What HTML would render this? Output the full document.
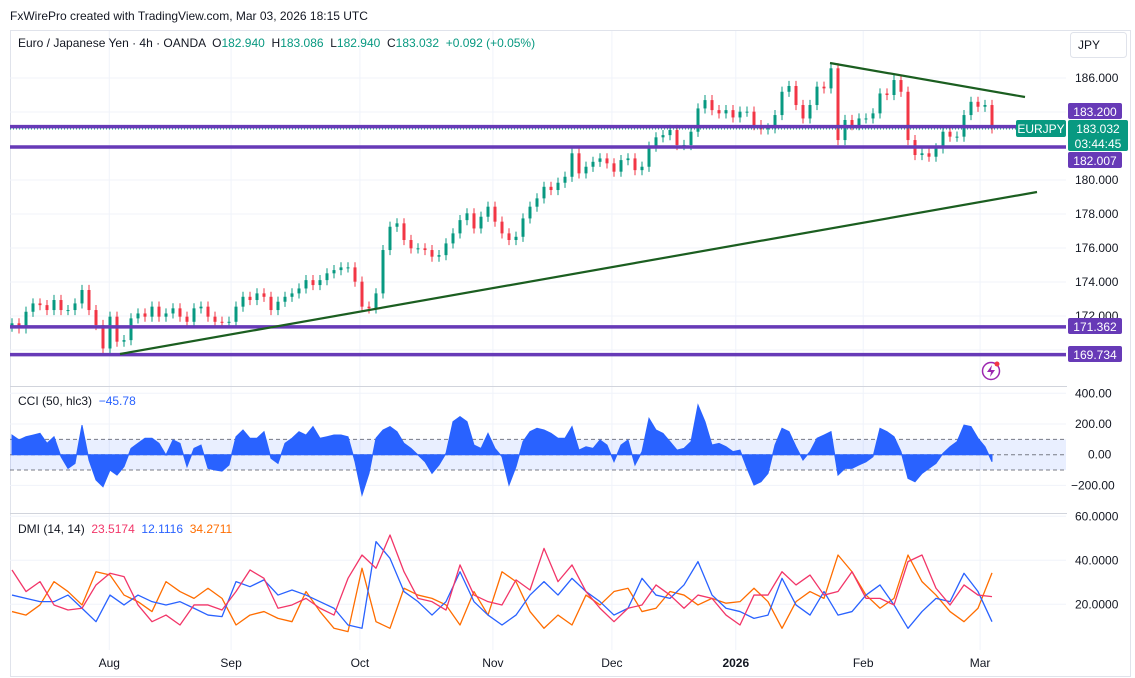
<!DOCTYPE html>
<html><head><meta charset="utf-8">
<style>
body{margin:0;background:#fff;width:1135px;height:678px;overflow:hidden;font-family:"Liberation Sans",sans-serif;}
svg{position:absolute;left:0;top:0}
text{font-family:"Liberation Sans",sans-serif;white-space:pre}
</style></head>
<body>
<svg id="chart" width="1135" height="678" xmlns="http://www.w3.org/2000/svg">
<text x="10" y="20" font-size="12" fill="#131722">FxWirePro created with TradingView.com, Mar 03, 2026 18:15 UTC</text>
<rect x="10.5" y="30.5" width="1120" height="646" fill="none" stroke="#e0e3eb"/>
<g id="grid"></g>
<line x1="10" y1="386.5" x2="1130" y2="386.5" stroke="#d1d4dc"/>
<line x1="10" y1="513.5" x2="1130" y2="513.5" stroke="#d1d4dc"/>
<g id="cci-bg"></g>
<g id="candles"></g>
<g id="levels"></g>
<line x1="120" y1="354" x2="1037" y2="192" stroke="#1b5e20" stroke-width="2.2"/>
<line x1="830" y1="63" x2="1025" y2="97" stroke="#1b5e20" stroke-width="2.2"/>
<g id="cci"></g>
<g id="dmi"></g>
<g id="axes"></g>
<text x="18" y="47" font-size="12" fill="#131722">Euro / Japanese Yen · 4h · OANDA  O<tspan fill="#089981">182.940</tspan>  H<tspan fill="#089981">183.086</tspan>  L<tspan fill="#089981">182.940</tspan>  C<tspan fill="#089981">183.032  +0.092 (+0.05%)</tspan></text>
<rect x="1070.5" y="32.5" width="56" height="25" rx="3" fill="#fff" stroke="#e0e3eb"/>
<text x="1078" y="49" font-size="12" fill="#131722">JPY</text>
<text x="18" y="405" font-size="12" fill="#131722">CCI (50, hlc3)  <tspan fill="#2962ff">−45.78</tspan></text>
<text x="18" y="533" font-size="12" fill="#131722">DMI (14, 14)  <tspan fill="#f23669">23.5174</tspan>  <tspan fill="#2962ff">12.1116</tspan>  <tspan fill="#ff6d00">34.2711</tspan></text>
<g><circle cx="991" cy="371" r="8.5" fill="none" stroke="#9c27b0" stroke-width="1.5"/><path d="M992 365 L987 372 L991 372 L990 377 L995 370 L991 370 Z" fill="#9c27b0"/><circle cx="997" cy="364" r="2.5" fill="#f23645"/></g>
</svg>
<script>
const closes=[171.57,171.27,172.25,172.74,172.64,172.35,172.94,172.35,172.35,172.74,173.53,172.35,171.47,170.09,171.96,170.49,170.58,171.86,172.15,171.96,172.55,171.96,172.15,172.45,171.96,171.66,172.45,172.55,171.96,171.66,171.60,171.66,172.55,173.13,172.94,173.33,173.13,172.35,172.84,173.13,173.33,173.62,174.11,173.82,174.11,174.51,174.70,174.86,174.86,174.02,172.55,172.45,173.33,175.88,177.25,177.45,176.47,175.98,175.98,175.88,175.49,175.58,176.27,176.86,177.64,178.04,177.15,177.84,178.43,177.55,176.86,176.47,176.66,177.74,178.43,178.92,179.60,179.41,179.84,
180.19,181.57,180.39,180.78,181.07,181.27,180.98,180.49,181.17,181.27,180.58,180.78,181.96,182.51,182.64,182.94,182.06,182.06,182.84,184.21,184.70,184.11,183.92,184.11,183.68,184.02,184.02,183.23,182.98,183.04,183.82,185.19,185.53,184.41,183.62,184.41,185.49,185.39,186.57,182.35,183.53,183.23,183.62,183.62,183.92,185.09,185.00,185.88,185.19,182.35,181.47,181.57,181.37,181.86,182.84,182.55,182.55,183.82,184.60,184.31,184.41,183.032];
const cciValues=[128,96,117,128,139,74,117,-13,-89,-57,193,-35,-165,-209,-100,-133,-78,41,74,107,107,74,-2,96,74,-78,41,63,-89,-100,-107,-67,117,161,107,107,150,-24,-57,74,107,150,128,183,107,117,128,128,117,-46,-263,-122,107,161,183,150,74,41,-2,-46,-122,-67,9,215,248,215,63,41,139,41,-13,-198,-78,85,150,172,161,139,107,
107,183,30,52,41,96,63,-46,63,96,-67,20,237,161,139,85,30,41,85,324,215,63,74,52,20,30,-89,-198,-176,-122,63,172,150,52,-35,20,107,128,150,-133,-89,-89,-67,-46,-13,172,150,117,20,-154,-176,-122,-89,-57,9,52,85,193,183,107,52,-46];
const plusDI=[35.6,25.8,30.3,19.7,17.4,18.2,28.8,34.1,32.6,19.7,12.1,15.1,10.6,19.7,19.7,17.4,25.8,35.6,31.8,18.2,19.7,22.7,18.2,15.1,31.8,42.4,36.4,51.5,34.8,22.7,21.2,17.4,37.9,24.2,21.2,19.7,31.1,26.5,45.4,30.3,37.9,25.8,18.2,12.1,18.2,19.7,28.8,24.2,18.2,24.2,22.7,15.1,10.6,24.2,24.2,34.8,28.8,33.3,24.2,25.8,34.8,22.7,22.7,19.7,39.4,42.4,27.3,19.7,28.8,24.2,23.5];
const minusDI=[24.2,22.7,21.2,21.2,24.2,18.2,12.1,24.2,19.7,24.2,21.2,19.7,21.2,18.2,15.1,14.4,30.3,28.0,31.1,24.2,26.5,24.2,21.2,18.2,10.6,9.1,48.5,40.9,25.8,21.2,15.1,21.2,34.8,21.2,15.1,10.6,15.1,24.2,30.3,24.2,31.8,25.8,21.2,15.1,18.2,31.8,24.2,22.7,28.8,39.4,24.2,18.2,16.7,13.6,15.1,31.8,19.7,15.1,25.8,15.1,16.7,24.2,28.8,19.7,9.1,16.7,22.7,21.2,34.1,25.8,12.1];
const adx=[16.7,15.1,19.7,30.3,25.8,19.7,34.8,33.3,24.2,21.2,16.7,30.3,25.8,22.7,27.3,22.7,10.6,15.1,16.7,13.6,12.1,25.8,16.7,9.1,7.6,36.4,12.1,9.1,27.3,24.2,22.7,19.7,10.6,25.8,15.1,34.8,30.3,16.7,9.1,15.1,10.6,24.2,19.7,25.8,27.3,16.7,18.2,25.8,24.2,19.7,22.7,20.5,21.2,27.3,21.2,9.1,21.2,25.8,22.7,42.4,34.8,24.2,18.2,22.7,42.4,30.3,24.2,16.7,12.1,18.2,34.3];
const priceTicks=[186,180,178,176,174,172];
const cciTicks=[400,200,0,-200];
const dmiTicks=[60,40,20];
const months=["Aug","Sep","Oct","Nov","Dec","2026","Feb","Mar"];
const monthPos=[13.9,31.3,49.7,68.7,85.7,103.4,121.6,138.3];
const levels=[183.14,181.94,171.36,169.73];
const levelLabels=["183.200","182.007","171.362","169.734"];

const NS="http://www.w3.org/2000/svg";
function mk(tag,attrs,parent){const e=document.createElementNS(NS,tag);for(const k in attrs)e.setAttribute(k,attrs[k]);parent.appendChild(e);return e;}
const xBar=(i,n)=>12+i*(980/(n-1));
const xMonth=m=>12+m*7;
const yP=p=>78+(186-p)*17;
const yC=v=>454.7-v*0.1535;
const yD=v=>648.3-v*2.2;
const g=id=>document.getElementById(id);

const grid=g('grid');
monthPos.forEach((m,k)=>{const l=mk('line',{x1:xMonth(m),y1:31,x2:xMonth(m),y2:650,stroke:'#f0f3fa'},grid);

});
[186,184,182,180,178,176,174,172,170].forEach(p=>{const l=mk('line',{x1:10,y1:yP(p),x2:1066,y2:yP(p),stroke:'#f0f3fa'},grid);

});
[400,200,-200].forEach(v=>{const l=mk('line',{x1:10,y1:yC(v),x2:1066,y2:yC(v),stroke:'#f0f3fa'},grid);

});
[60,40,20].forEach(v=>{const l=mk('line',{x1:10,y1:yD(v),x2:1066,y2:yD(v),stroke:'#f0f3fa'},grid);

});

const bg=g('cci-bg');
const band=mk('rect',{x:10,y:yC(100),width:1056,height:yC(-100)-yC(100),fill:'#2962ff','fill-opacity':0.1},bg);


[100,0,-100].forEach(v=>{const l=mk('line',{x1:10,y1:yC(v),x2:1066,y2:yC(v),stroke:'#787b86','stroke-dasharray':'4,3'},bg);

});

const cg=g('candles');
closes.forEach((c,i)=>{
  const o=i>0?closes[i-1]:c-0.2;const up=c>=o;const col=up?'#089981':'#f23645';
  const x=xBar(i,closes.length);const hi=Math.max(o,c)+0.3,lo=Math.min(o,c)-0.3;
  const w=mk('line',{x1:x,y1:yP(hi),x2:x,y2:yP(lo),stroke:col,'stroke-width':1},cg);
  
  
  const b=mk('rect',{x:x-1.5,y:yP(Math.max(o,c)),width:3,height:Math.max(1,Math.abs(yP(o)-yP(c))),fill:col},cg);
  
  
});

const lg=g('levels');
levels.forEach((p,k)=>{const l=mk('line',{x1:10,y1:yP(p),x2:1066,y2:yP(p),stroke:'#673ab7','stroke-width':3.5},lg);

});
const last=closes[closes.length-1];
const pl=mk('line',{x1:10,y1:yP(last)+0.5,x2:1066,y2:yP(last)+0.5,stroke:'#089981','stroke-dasharray':'1,2'},lg);



const cc=g('cci');const n=cciValues.length;let d='M'+xBar(0,n)+' '+yC(0);
cciValues.forEach((v,i)=>{d+=' L'+xBar(i,n)+' '+yC(v);});
d+=' L'+xBar(n-1,n)+' '+yC(0)+' Z';
const ca=mk('path',{d:d,fill:'#2962ff',stroke:'#2962ff','stroke-width':1},cc);



const dg=g('dmi');
[[adx,'#ff6d00','adx-line'],[minusDI,'#2962ff','minus-di-line'],[plusDI,'#f23669','plus-di-line']].forEach(([arr,col,nm])=>{
  const pts=arr.map((v,i)=>xBar(i,arr.length)+','+yD(v)).join(' ');
  const pl=mk('polyline',{points:pts,fill:'none',stroke:col,'stroke-width':1.3,'stroke-linejoin':'round'},dg);
  
  
});

const ax=g('axes');
mk('rect',{x:1067,y:58,width:63,height:590,fill:'#fff'},ax);
function txt(x,y,s,attrs,name){const t=mk('text',Object.assign({x:x,y:y,'font-size':12,fill:'#131722'},attrs||{}),ax);t.textContent=s;

return t;}
priceTicks.forEach(p=>txt(1075,yP(p)+4,p.toFixed(3),{},'price-tick'));
cciTicks.forEach(v=>txt(v<0?1071:(v===0?1088:1075),yC(v)+4,(v<0?'−'+(-v).toFixed(2):v.toFixed(2)),{},'cci-tick'));
dmiTicks.forEach(v=>txt(1075,yD(v)+4,v.toFixed(4),{},'dmi-tick'));
months.forEach((m,k)=>txt(xMonth(monthPos[k]),667,m,{'text-anchor':'middle','font-weight':m==='2026'?'bold':'normal'},'time-tick-'+m));
function box(x,y,w,h,fill,name,lines){const r=mk('rect',{x:x,y:y,width:w,height:h,rx:2,fill:fill},ax);


lines.forEach((s,k)=>txt(x+w/2,y+13+k*15,s,{'text-anchor':'middle',fill:'#fff'},name+'-text'));}
box(1068,103,54,16,'#673ab7','level-label-183200',[levelLabels[0]]);
box(1068,152,54,16,'#673ab7','level-label-182007',[levelLabels[1]]);
box(1068,318,54,16,'#673ab7','level-label-171362',[levelLabels[2]]);
box(1068,346,54,16,'#673ab7','level-label-169734',[levelLabels[3]]);
box(1016,120,50,17,'#089981','symbol-tag',['EURJPY']);
box(1068,120,60,31,'#089981','last-price-label',[last.toFixed(3),'03:44:45']);
</script>
</body></html>
